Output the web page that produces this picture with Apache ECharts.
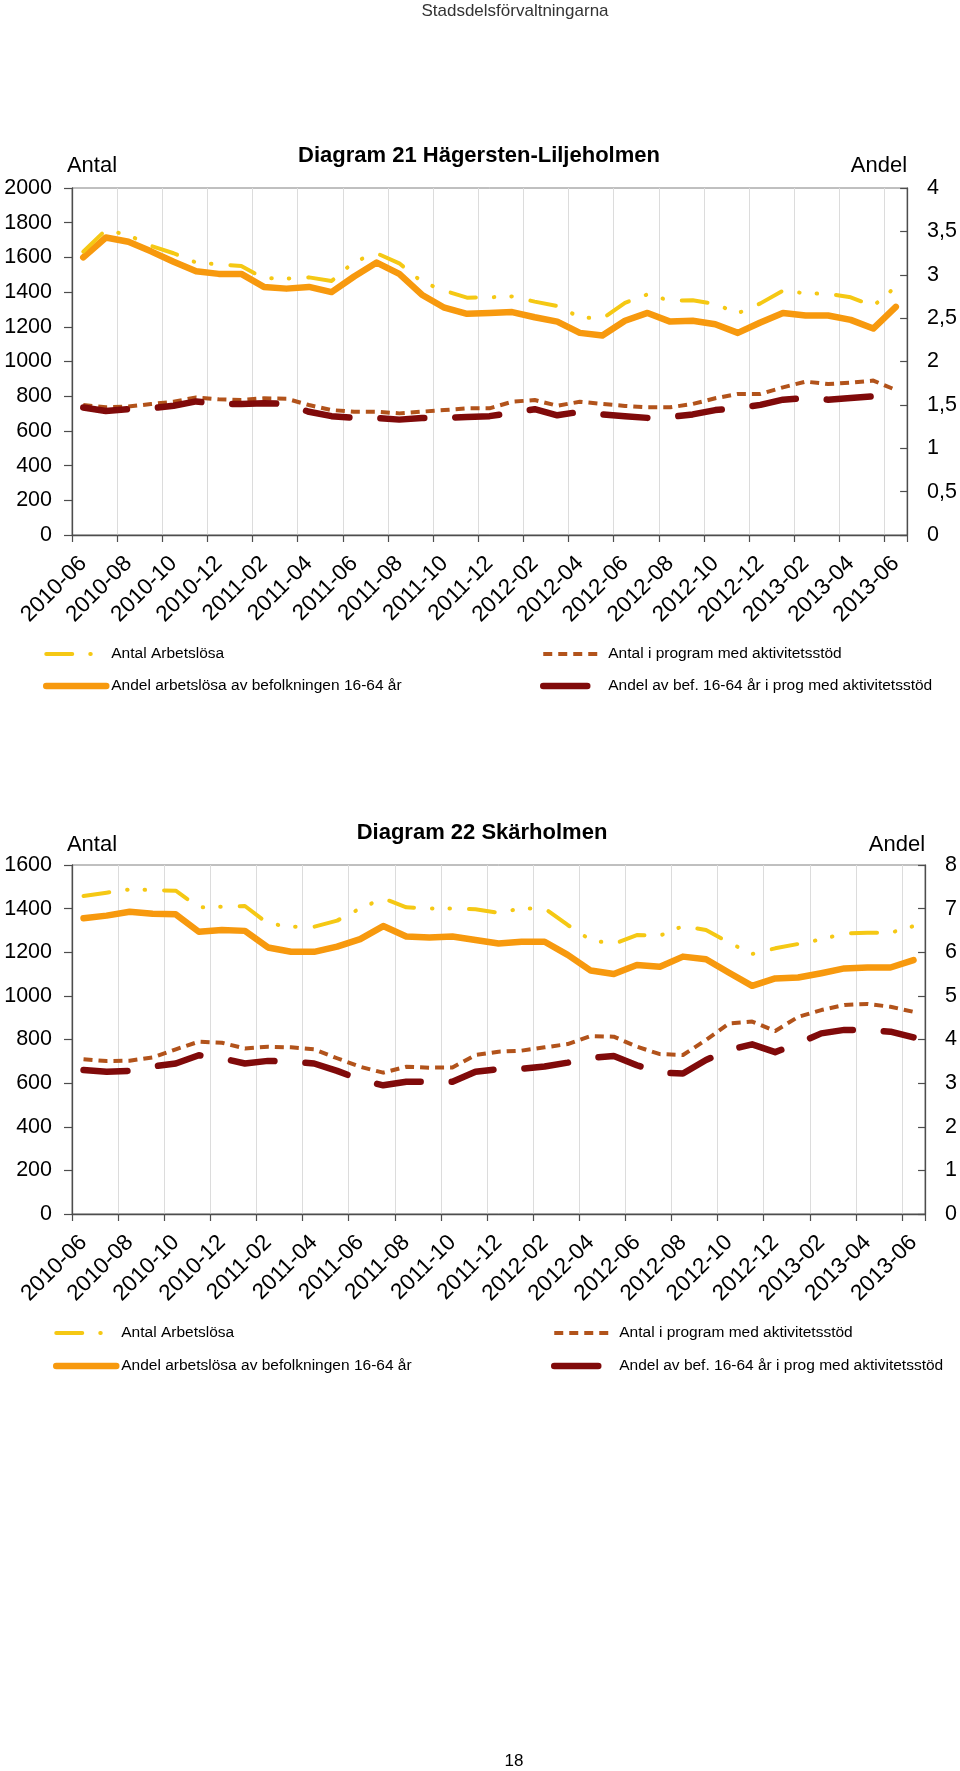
<!DOCTYPE html>
<html><head><meta charset="utf-8">
<script src="https://cdn.jsdelivr.net/npm/echarts@6/dist/echarts.min.js"></script>
<style>html,body{margin:0;padding:0;background:#fff}#c{width:960px;height:1771px}</style>
</head><body><div id="c"></div>
<script>
const months = ['2010-06','2010-07','2010-08','2010-09','2010-10','2010-11','2010-12',
 '2011-01','2011-02','2011-03','2011-04','2011-05','2011-06','2011-07','2011-08','2011-09','2011-10','2011-11','2011-12',
 '2012-01','2012-02','2012-03','2012-04','2012-05','2012-06','2012-07','2012-08','2012-09','2012-10','2012-11','2012-12',
 '2013-01','2013-02','2013-03','2013-04','2013-05','2013-06'];

const seriesNames = ['Antal Arbetslösa','Andel arbetslösa av befolkningen 16-64 år',
 'Antal i program med aktivitetsstöd','Andel av bef. 16-64 år i prog med aktivitetsstöd'];

// Diagram 21 Hägersten-Liljeholmen
const hl_antalArbetslosa = [1633,1758,1729,1666,1624,1570,1560,1550,1480,1478,1485,1464,1575,1624,1566,1460,1408,1368,1370,1375,1345,1320,1255,1247,1338,1387,1351,1353,1331,1278,1335,1408,1393,1390,1370,1320,1431];
const hl_andelArbetslosa = [3.20,3.43,3.38,3.27,3.15,3.04,3.01,3.01,2.86,2.84,2.86,2.80,2.98,3.14,3.01,2.77,2.62,2.55,2.56,2.57,2.51,2.46,2.33,2.30,2.47,2.56,2.46,2.47,2.43,2.33,2.45,2.56,2.53,2.53,2.48,2.38,2.63];
const hl_antalProgram = [749,736,740,755,768,793,782,778,788,786,749,720,711,711,701,711,720,730,730,768,778,745,768,755,744,736,736,755,788,813,813,851,884,870,878,890,836];
const hl_andelProgram = [1.47,1.43,1.45,1.46,1.49,1.54,1.51,1.51,1.52,1.51,1.42,1.37,1.35,1.35,1.33,1.35,1.35,1.36,1.37,1.41,1.45,1.38,1.42,1.39,1.37,1.35,1.36,1.39,1.44,1.46,1.50,1.56,1.58,1.56,1.58,1.60,null];

// Diagram 22 Skärholmen
const sk_antalArbetslosa = [1458,1473,1488,1485,1482,1406,1409,1412,1332,1317,1317,1345,1401,1447,1406,1401,1401,1397,1381,1401,1401,1325,1256,1238,1279,1276,1320,1302,1244,1192,1218,1238,1259,1286,1289,1289,1320];
const sk_andelArbetslosa = [6.78,6.84,6.93,6.88,6.87,6.47,6.51,6.49,6.11,6.01,6.01,6.13,6.30,6.60,6.36,6.34,6.36,6.28,6.20,6.24,6.24,5.94,5.58,5.50,5.71,5.67,5.90,5.84,5.53,5.23,5.40,5.42,5.52,5.63,5.65,5.65,5.82];
const sk_antalProgram = [709,701,703,718,755,790,785,759,767,764,755,714,675,648,675,671,672,729,744,749,764,779,816,813,767,733,729,798,874,882,839,904,935,958,963,950,927];
const sk_andelProgram = [3.30,3.26,3.28,3.38,3.45,3.64,3.57,3.45,3.51,3.49,3.45,3.28,3.08,2.95,3.03,3.03,3.03,3.26,3.32,3.33,3.38,3.47,3.58,3.62,3.41,3.24,3.22,3.53,3.76,3.89,3.71,3.91,4.14,4.22,4.22,4.18,4.05];

const F = '"Liberation Sans", Arial, sans-serif';
const AX = '#4d4d4d';
const styles = [
  {color:'#F5C814', width:4, type:[26,18,0.5,17,0.5,19], cap:'round', join:'round'},
  {color:'#F7990E', width:6.5, type:'solid', cap:'round', join:'round'},
  {color:'#B2531B', width:4, type:[9,6], cap:'butt', join:'round'},
  {color:'#800A0A', width:6.5, type:[44,31], cap:'round', join:'round'}
];

function xAx(g){
  return {type:'category', gridIndex:g, data:months, boundaryGap:true,
    axisLine:{lineStyle:{color:AX, width:1.3}},
    axisTick:{show:true, interval:1, length:7, lineStyle:{color:AX, width:1.2}},
    axisLabel:{interval:1, rotate:45, margin:25, fontSize:22.5, color:'#000', fontFamily:F},
    splitLine:{show:true, interval:1, lineStyle:{color:'#dcdcdc', width:1}}};
}
function yLeft(g, max){
  return {type:'value', gridIndex:g, position:'left', min:0, max:max, interval:200,
    name:'Antal', nameLocation:'end', nameGap:g===0?22:20,
    nameTextStyle:{align:'center', verticalAlign:'middle', fontSize:22, color:'#000', fontFamily:F, padding:[0,0,0,40]},
    axisLine:{show:true, lineStyle:{color:AX, width:1.3}},
    axisTick:{show:true, inside:false, length:8, lineStyle:{color:AX, width:1.2}},
    axisLabel:{margin:20, fontSize:21.5, color:'#000', fontFamily:F, formatter: v => String(v)},
    splitLine:{show:false}};
}
function yRight(g, max, step){
  return {type:'value', gridIndex:g, position:'right', min:0, max:max, interval:step,
    name:'Andel', nameLocation:'end', nameGap:g===0?22:20,
    nameTextStyle:{align:'right', verticalAlign:'middle', fontSize:22, color:'#000', fontFamily:F},
    axisLine:{show:true, lineStyle:{color:AX, width:1.3}},
    axisTick:{show:true, inside:true, length:7, lineStyle:{color:AX, width:1.2}},
    axisLabel:{margin:20, fontSize:21.5, color:'#000', fontFamily:F,
      formatter: v => String(v).replace('.', ',')},
    splitLine:{show:false}};
}
function mk(name, data, xi, yi, st, z){
  return {name, type:'line', xAxisIndex:xi, yAxisIndex:yi, data, symbol:'none', showSymbol:false,
    connectNulls:false, z, lineStyle:st, itemStyle:{color:st.color}, emphasis:{disabled:true}, silent:true};
}
function leg(left, top, gap, names){
  return {orient:'vertical', left, top, padding:0, itemWidth:60, itemHeight:16, itemGap:gap, selectedMode:false,
    data:names, textStyle:{fontSize:15.5, color:'#000', fontFamily:F},
    itemStyle:{opacity:0, borderWidth:0}, lineStyle:{width:'inherit', type:'inherit', cap:'inherit'}};
}

const chart = echarts.init(document.getElementById('c'), null, {renderer:'canvas'});
chart.setOption({
  animation:false,
  backgroundColor:'#fff',
  textStyle:{fontFamily:F},
  title:[
    {text:'Stadsdelsförvaltningarna', left:515, top:3, textAlign:'center', padding:0,
      textStyle:{fontSize:17, fontWeight:'normal', color:'#333', fontFamily:F}},
    {text:'Diagram 21 Hägersten-Liljeholmen', left:479, top:145, textAlign:'center', padding:0,
      textStyle:{fontSize:22, fontWeight:'bold', color:'#000', fontFamily:F}},
    {text:'Diagram 22 Skärholmen', left:482, top:822, textAlign:'center', padding:0,
      textStyle:{fontSize:22, fontWeight:'bold', color:'#000', fontFamily:F}},
    {text:'18', left:514, top:1753, textAlign:'center', padding:0,
      textStyle:{fontSize:17, fontWeight:'normal', color:'#000', fontFamily:F}}
  ],
  grid:[
    {left:72, top:188, width:836, height:347, show:true, borderColor:'#808080', borderWidth:1, backgroundColor:'transparent', containLabel:false},
    {left:72, top:865, width:855, height:349, show:true, borderColor:'#808080', borderWidth:1, backgroundColor:'transparent', containLabel:false}
  ],
  xAxis:[xAx(0), xAx(1)],
  yAxis:[yLeft(0,2000), yRight(0,4,0.5), yLeft(1,1600), yRight(1,8,1)],
  legend:[
    leg(43, 646, 16, [seriesNames[0], seriesNames[1]]),
    leg(540, 646, 16, [seriesNames[2], seriesNames[3]]),
    leg(53, 1325, 17, [seriesNames[0], seriesNames[1]]),
    leg(551, 1325, 17, [seriesNames[2], seriesNames[3]])
  ],
  series:[
    mk(seriesNames[2], hl_antalProgram, 0, 0, styles[2], 2),
    mk(seriesNames[3], hl_andelProgram, 0, 1, styles[3], 3),
    mk(seriesNames[1], hl_andelArbetslosa, 0, 1, styles[1], 4),
    mk(seriesNames[0], hl_antalArbetslosa, 0, 0, styles[0], 5),
    mk(seriesNames[2], sk_antalProgram, 1, 2, styles[2], 2),
    mk(seriesNames[3], sk_andelProgram, 1, 3, styles[3], 3),
    mk(seriesNames[1], sk_andelArbetslosa, 1, 3, styles[1], 4),
    mk(seriesNames[0], sk_antalArbetslosa, 1, 2, styles[0], 5)
  ]
});
</script></body></html>
